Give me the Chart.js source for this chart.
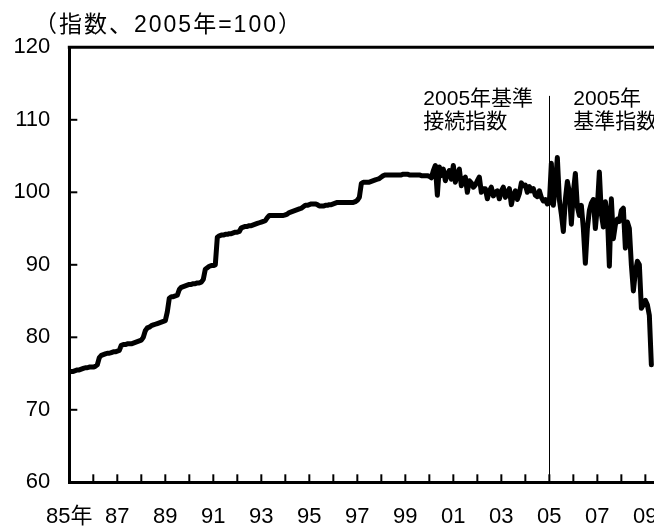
<!DOCTYPE html>
<html><head><meta charset="utf-8">
<script src="https://cdn.jsdelivr.net/npm/chart.js@4/dist/chart.umd.min.js"></script>
<style>html,body{margin:0;padding:0;background:#fff;overflow:hidden}#wrap{width:654px;height:527px;position:relative}</style>
</head><body><div id="wrap"><canvas id="c"></canvas></div>
<script>
const startYear = 1985;
const vals1985_1989 = [
 75.2,75.3,75.3,75.4,75.5,75.5,75.6,75.7,75.8,75.8,75.9,75.9,
 75.9,76.0,76.2,77.2,77.5,77.6,77.7,77.8,77.8,77.9,78.0,78.0,
 78.1,78.2,78.9,79.0,79.0,79.1,79.1,79.1,79.2,79.3,79.4,79.5,
 79.6,80.0,80.9,81.3,81.4,81.6,81.7,81.8,81.9,82.0,82.1,82.2,
 82.3,83.5,85.4,85.6,85.6,85.7,85.8,86.6,86.9,87.0,87.1,87.2];
const vals1990_1994 = [
 87.3,87.3,87.4,87.4,87.5,87.5,87.6,88.0,89.4,89.6,89.8,89.9,
 89.9,90.0,93.8,94.0,94.1,94.1,94.2,94.2,94.3,94.3,94.4,94.5,
 94.5,94.6,95.1,95.2,95.3,95.3,95.4,95.4,95.5,95.6,95.7,95.8,
 95.9,96.0,96.1,96.5,96.8,96.8,96.8,96.8,96.8,96.8,96.8,96.8,
 96.9,97.0,97.2,97.3,97.4,97.5,97.6,97.7,97.8,98.0,98.2,98.2];
const vals1995_1999 = [
 98.3,98.4,98.4,98.4,98.3,98.1,98.1,98.1,98.2,98.2,98.3,98.3,
 98.4,98.5,98.6,98.6,98.6,98.6,98.6,98.6,98.6,98.6,98.6,98.7,
 98.9,99.3,101.2,101.4,101.4,101.4,101.4,101.5,101.6,101.7,101.8,101.9,
 102.1,102.3,102.4,102.4,102.4,102.4,102.4,102.4,102.4,102.4,102.4,102.5,
 102.5,102.5,102.4,102.4,102.4,102.4,102.4,102.4,102.3,102.3,102.3,102.3];
const vals2000_2004 = [
 102.2,102.0,103.0,103.7,99.6,103.5,102.3,103.2,101.6,102.5,103.0,101.8,
 103.7,101.4,102.5,103.2,100.9,101.8,102.1,100.0,101.6,101.3,100.7,101.0,
 101.6,102.1,100.0,100.5,100.5,99.1,100.2,100.7,99.5,100.0,100.2,99.1,
 100.2,100.7,99.3,100.0,100.5,98.3,99.6,100.2,99.0,99.8,101.3,100.9,
 101.0,100.0,100.8,100.2,100.5,99.6,99.4,100.2,99.3,98.8,99.0,98.4];
const vals2005_2009 = [
 98.5,104.0,98.2,101.0,104.8,99.0,97.0,94.6,99.0,101.5,100.0,95.6,
 100.0,102.6,98.0,96.8,98.2,95.0,90.2,95.0,97.5,98.5,99.0,95.0,
 98.0,102.8,97.0,95.2,98.7,97.0,89.8,99.1,93.6,95.5,96.3,96.0,
 97.5,97.8,92.3,95.9,95.0,90.0,86.4,89.0,90.5,90.0,84.0,84.5,
 85.1,84.5,83.0,76.2];

const xTickYears  = [1985,1987,1989,1991,1993,1995,1997,1999,2001,2003,2005,2007,2009];
const xTickLabels = ['85年','87','89','91','93','95','97','99','01','03','05','07','09'];
const yTickValues = [60,70,80,90,100,110,120];
const titleText = '（指数、2005年=100）';
const leftNote  = ['2005年基準','接続指数'];
const rightNote = ['2005年','基準指数'];
const dividerYear = 2005;
const dividerTop = 113.3;

const allVals = [].concat(vals1985_1989, vals1990_1994, vals1995_1999, vals2000_2004, vals2005_2009);
const points = allVals.map((v,i)=>({x: startYear + i/12, y: v}));

const FONT = '"Liberation Sans","Noto Sans CJK JP",sans-serif';

const deco = {
  id:'deco',
  beforeDatasetsDraw(chart){
    const {ctx, chartArea:a, scales:{x,y}} = chart;
    ctx.save();
    ctx.strokeStyle='#000';
    ctx.lineWidth=3;
    ctx.beginPath(); ctx.moveTo(a.left-1.5, a.top); ctx.lineTo(chart.width, a.top); ctx.stroke();
    ctx.lineWidth=2;
    for (let yr=startYear+1; yr<=x.max; yr++){
      const px=x.getPixelForValue(yr);
      ctx.beginPath(); ctx.moveTo(px,a.bottom); ctx.lineTo(px,a.bottom-8); ctx.stroke();
    }
    for (const v of yTickValues.slice(1,-1)){
      const py=y.getPixelForValue(v);
      ctx.beginPath(); ctx.moveTo(a.left,py); ctx.lineTo(a.left+8,py); ctx.stroke();
    }
    ctx.lineWidth=1;
    const dx=Math.round(x.getPixelForValue(dividerYear))+0.5;
    ctx.beginPath(); ctx.moveTo(dx,y.getPixelForValue(dividerTop)); ctx.lineTo(dx,a.bottom); ctx.stroke();
    ctx.restore();
  },
  afterDraw(chart){
    const {ctx, scales:{x}} = chart;
    ctx.save();
    ctx.fillStyle='#000';
    ctx.textBaseline='middle';
    ctx.textAlign='left';
    const dx=x.getPixelForValue(dividerYear);
    ctx.font='21px '+FONT;
    leftNote.forEach((t,i)=>ctx.fillText(t, dx-126, 99+i*23));
    rightNote.forEach((t,i)=>ctx.fillText(t, dx+24, 99+i*23));
    ctx.font='23px '+FONT;
    try { ctx.letterSpacing='2px'; } catch(e) {}
    ctx.fillText(titleText, 34, 26);
    ctx.restore();
  }
};

new Chart(document.getElementById('c'), {
  type:'line',
  data:{datasets:[{data:points, borderColor:'#000', borderWidth:5, pointRadius:0, tension:0,
    borderJoinStyle:'round', borderCapStyle:'round', fill:false}]},
  options:{
    responsive:true, maintainAspectRatio:false, animation:false,
    layout:{padding:{top:47.3,left:0,right:0,bottom:0}, autoPadding:false},
    plugins:{legend:{display:false}, tooltip:{enabled:false}},
    scales:{
      x:{type:'linear', min:startYear, max:2009.36,
        afterFit:s=>{s.height=44.7; s.paddingLeft=0; s.paddingRight=0;},
        afterBuildTicks:s=>{s.ticks=xTickYears.map(v=>({value:v}));},
        grid:{display:false, drawTicks:false},
        border:{display:true, color:'#000', width:3},
        ticks:{autoSkip:false, maxRotation:0, padding:21, color:'#000', font:{size:22, family:FONT},
          callback:(v)=>{const i=xTickYears.indexOf(v); return i>=0?xTickLabels[i]:'';}}
      },
      y:{min:60, max:120,
        afterFit:s=>{s.width=69.3; s.paddingTop=0; s.paddingBottom=0;},
        afterBuildTicks:s=>{s.ticks=yTickValues.map(v=>({value:v}));},
        grid:{display:false, drawTicks:false},
        border:{display:true, color:'#000', width:3},
        ticks:{padding:19, color:'#000', font:{size:22, family:FONT}}
      }
    }
  },
  plugins:[deco]
});
</script></body></html>
